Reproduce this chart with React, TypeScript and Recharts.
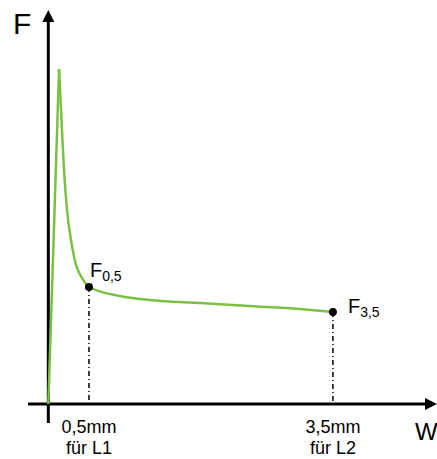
import React from 'react';
import { ComposedChart, Line, XAxis, YAxis, ReferenceLine, ReferenceDot } from 'recharts';

// Deformation w (mm) and force F (arbitrary units)
const wValues = [0, 0.132, 0.168, 0.193, 0.23, 0.279, 0.341, 0.415, 0.5, 0.88, 1.25, 1.87, 2.48, 3.09, 3.5];
const fValues = [0, 335, 274, 234, 194, 164, 139, 126, 117, 108, 104, 101, 98, 95, 92];
const peakIndex = 1;

// Marked points
const markW = [0.5, 3.5];
const markF = [117, 92];
const markSub = ['0,5', '3,5'];

// Tick labels (two lines each)
const tickLine1 = ['0,5mm', '3,5mm'];
const tickLine2 = ['für L1', 'für L2'];

// Axis titles
const yTitle = 'F';
const xTitle = 'W';

const X_DOMAIN: [number, number] = [-0.25, 4.78];
const Y_DOMAIN: [number, number] = [-19, 394];

const FONT = '"Liberation Sans", Arial, sans-serif';
const GREEN = '#7ac143';

const data = wValues.map((w, i) => ({
  w,
  rise: i <= peakIndex ? fValues[i] : null,
  decay: i >= peakIndex ? fValues[i] : null,
}));

const labelOffsets = [
  { dx: 1, dy: -10 },
  { dx: 15, dy: 1 },
];

const XAxisShape = (p: any) => {
  const { x1, y1, x2 } = p;
  return (
    <g>
      <line x1={x1} y1={y1} x2={x2 - 8} y2={y1} stroke="#000" strokeWidth={3} />
      <polygon points={`${x2},${y1} ${x2 - 12},${y1 - 6} ${x2 - 12},${y1 + 6}`} fill="#000" />
      <text x={415} y={440} fontSize={24} fontFamily={FONT} fill="#000">{xTitle}</text>
    </g>
  );
};

const YAxisShape = (p: any) => {
  const { x1, y1, y2 } = p;
  const top = Math.min(y1, y2);
  const bottom = Math.max(y1, y2);
  return (
    <g>
      <line x1={x1} y1={bottom} x2={x1} y2={top + 8} stroke="#000" strokeWidth={3} />
      <polygon points={`${x1},${top} ${x1 - 6},${top + 12} ${x1 + 6},${top + 12}`} fill="#000" />
      <text x={13} y={34} fontSize={30} fontFamily={FONT} fill="#000">{yTitle}</text>
    </g>
  );
};

const makeDotShape = (i: number) => (p: any) => {
  const { cx, cy } = p;
  const o = labelOffsets[i];
  return (
    <g>
      <circle cx={cx} cy={cy} r={4} fill="#000" />
      <text x={cx + o.dx} y={cy + o.dy} fontSize={20} fontFamily={FONT} fill="#000">
        F
        <tspan fontSize={14} dy={4}>{markSub[i]}</tspan>
      </text>
    </g>
  );
};

const Tick = (p: any) => {
  const { x, payload } = p;
  const i = markW.indexOf(payload.value);
  if (i < 0) return null;
  return (
    <g>
      <text x={x} y={433} textAnchor="middle" fontSize={18} fontFamily={FONT} fill="#000">{tickLine1[i]}</text>
      <text x={x} y={454} textAnchor="middle" fontSize={18} fontFamily={FONT} fill="#000">{tickLine2[i]}</text>
    </g>
  );
};

export default function App() {
  return (
    <div style={{ position: 'absolute', left: 0, top: 0, background: '#fff' }}>
      <ComposedChart width={437} height={459} data={data} margin={{ top: 10, right: 0, bottom: 0, left: 28 }}>
        <XAxis
          type="number"
          dataKey="w"
          domain={X_DOMAIN}
          allowDataOverflow
          ticks={markW}
          axisLine={false}
          tickLine={false}
          height={36}
          tick={<Tick />}
          interval={0}
        />
        <YAxis type="number" domain={Y_DOMAIN} allowDataOverflow hide />
        <ReferenceLine
          segment={[{ x: X_DOMAIN[0], y: 0 }, { x: X_DOMAIN[1], y: 0 }]}
          ifOverflow="visible"
          shape={XAxisShape}
        />
        <ReferenceLine
          segment={[{ x: 0, y: Y_DOMAIN[0] }, { x: 0, y: Y_DOMAIN[1] }]}
          ifOverflow="visible"
          shape={YAxisShape}
        />
        {markW.map((w, i) => (
          <ReferenceLine
            key={'d' + i}
            segment={[{ x: w, y: markF[i] }, { x: w, y: 0 }]}
            ifOverflow="visible"
            stroke="#000"
            strokeWidth={1.5}
            strokeDasharray="5 3 1 3"
          />
        ))}
        <Line
          type="linear"
          dataKey="rise"
          stroke={GREEN}
          strokeWidth={2.5}
          strokeLinejoin="round"
          dot={false}
          connectNulls={false}
          isAnimationActive={false}
        />
        <Line
          type="monotone"
          dataKey="decay"
          stroke={GREEN}
          strokeWidth={2.5}
          strokeLinejoin="round"
          dot={false}
          connectNulls={false}
          isAnimationActive={false}
        />
        {markW.map((w, i) => (
          <ReferenceDot key={'p' + i} x={w} y={markF[i]} ifOverflow="visible" shape={makeDotShape(i)} />
        ))}
      </ComposedChart>
    </div>
  );
}
